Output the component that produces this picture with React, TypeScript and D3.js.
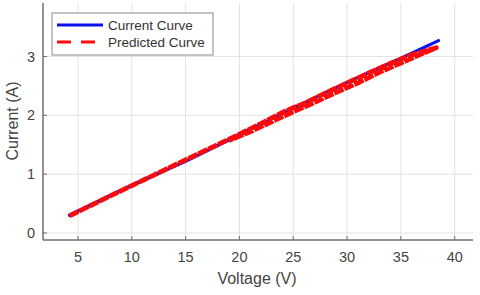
import React from 'react';
import * as d3 from 'd3';

// measured current (blue)
const currentV = [4.2, 10, 15, 20, 25, 30, 35, 38.5];
const currentI = [0.30, 0.81, 1.22, 1.67, 2.12, 2.56, 2.97, 3.27];

// predicted current (red, dashed) - goes up and comes back a bit lower
const predictedV = [4.2, 8, 12, 16, 20, 22, 24, 25, 26, 28, 30, 32, 34, 36, 38.3, 37, 35, 33, 31, 29, 27, 25, 23, 21, 19];
const predictedI = [0.29, 0.63, 0.98, 1.33, 1.68, 1.86, 2.05, 2.13, 2.20, 2.38, 2.55, 2.72, 2.88, 3.03, 3.15, 3.05, 2.89, 2.73, 2.55, 2.39, 2.22, 2.06, 1.89, 1.72, 1.57];

const xTicks = [5, 10, 15, 20, 25, 30, 35, 40];
const yTicks = [0, 1, 2, 3];
const legendLabels = ['Current Curve', 'Predicted Curve'];

const W = 480;
const H = 295;
const left = 43, right = 473, top = 3, bottom = 240;
const font = 'Arial, "Liberation Sans", sans-serif';

const App = () => {
    const x = d3.scaleLinear().domain([1.75, 41.7]).range([left, right]);
    const y = d3.scaleLinear().domain([-0.12, 3.91]).range([bottom, top]);

    const line = d3.line<[number, number]>()
        .x(d => x(d[0]))
        .y(d => y(d[1]));

    const blue = currentV.map((v, i) => [v, currentI[i]] as [number, number]);
    const red = predictedV.map((v, i) => [v, predictedI[i]] as [number, number]);

    return (
        <svg width={W} height={H} style={{ position: 'absolute', left: 0, top: 0, background: '#fff' }}>
            {/* grid */}
            {xTicks.map(t => (
                <line key={'gx' + t} x1={x(t)} x2={x(t)} y1={top} y2={bottom} stroke="#e3e3e3" strokeWidth={1} />
            ))}
            {yTicks.map(t => (
                <line key={'gy' + t} x1={left} x2={right} y1={y(t)} y2={y(t)} stroke="#e3e3e3" strokeWidth={1} />
            ))}

            {/* data */}
            <path d={line(blue) || ''} fill="none" stroke="#0a10f0" strokeWidth={3.2} strokeLinecap="round" />
            <path d={line(red) || ''} fill="none" stroke="#ff0a0a" strokeWidth={4.8} strokeDasharray="10,1" strokeLinejoin="round" />

            {/* axes */}
            <line x1={left} x2={left} y1={top} y2={bottom} stroke="#6e6e6e" strokeWidth={1.5} />
            <line x1={left} x2={right} y1={bottom} y2={bottom} stroke="#6e6e6e" strokeWidth={1.5} />
            {xTicks.map(t => (
                <g key={'xt' + t}>
                    <line x1={x(t)} x2={x(t)} y1={bottom} y2={bottom - 4} stroke="#6e6e6e" />
                    <text x={x(t)} y={bottom + 22} textAnchor="middle" fontFamily={font} fontSize={14.5} fill="#444">{t}</text>
                </g>
            ))}
            {yTicks.map(t => (
                <g key={'yt' + t}>
                    <line x1={left} x2={left + 4} y1={y(t)} y2={y(t)} stroke="#6e6e6e" />
                    <text x={left - 8} y={y(t) + 5} textAnchor="end" fontFamily={font} fontSize={14.5} fill="#444">{t}</text>
                </g>
            ))}

            {/* axis labels */}
            <text x={257} y={284} textAnchor="middle" fontFamily={font} fontSize={16} fill="#444">Voltage (V)</text>
            <text transform="translate(17.5,121) rotate(-90)" textAnchor="middle" fontFamily={font} fontSize={16} fill="#444">Current (A)</text>

            {/* legend */}
            <rect x={52} y={13} width={161} height={42} fill="#fff" stroke="#8a8a8a" strokeWidth={1} />
            <line x1={57} x2={103} y1={25} y2={25} stroke="#0a10f0" strokeWidth={3.2} />
            <line x1={57} x2={103} y1={42} y2={42} stroke="#ff0a0a" strokeWidth={3.2} strokeDasharray="14,10" />
            {legendLabels.map((l, i) => (
                <text key={l} x={108} y={30 + i * 17} fontFamily={font} fontSize={13.5} fill="#333">{l}</text>
            ))}
        </svg>
    );
};

export default App;
